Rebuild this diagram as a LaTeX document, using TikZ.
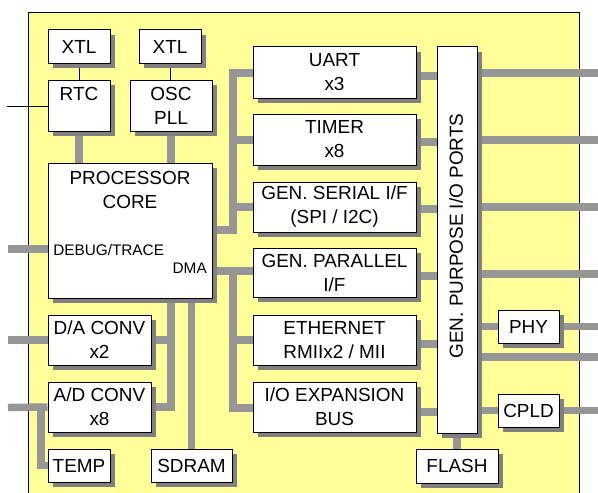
\documentclass[tikz,border=0pt]{standalone}
\usepackage{fontspec}
\setmainfont{Liberation Sans}
\usetikzlibrary{shadows}
\definecolor{bgyellow}{RGB}{255,255,153}
\definecolor{conngray}{RGB}{150,150,150}
\definecolor{shadgray}{RGB}{128,128,128}
\newcommand\mainfs{\fontsize{14.2pt}{18pt}\selectfont}
\newcommand\smallfs{\fontsize{11.5pt}{14pt}\selectfont}
\pgfdeclarelayer{back}
\pgfdeclarelayer{mid}
\pgfsetlayers{back,mid,main}
\begin{document}
\begin{tikzpicture}[x=0.75pt,y=-0.75pt,
  box/.style={draw=black, line width=0.75pt, fill=white, inner sep=0pt, align=center, font=\mainfs,
    drop shadow={shadow xshift=3.75pt, shadow yshift=-3.75pt, fill=shadgray, opacity=1}},
  sz/.style 2 args={minimum width=#1*0.75pt, minimum height=#2*0.75pt},
  conn/.style={draw=conngray, line width=5.6pt},
  thinline/.style={draw=black, line width=0.75pt},
  lbl/.style={inner sep=0pt, align=center}]
\useasboundingbox (0,0) rectangle (598,492);

% boxes
\node[box, sz={62}{33}] (xtla) at (79,46.5) {XTL};
\node[box, sz={62}{33}] (xtlb) at (170,46.5) {XTL};
\node[box, sz={62}{51}] (rtc) at (79,105.5) {RTC\\\phantom{PLL}};
\node[box, sz={82}{51}] (osc) at (171,105.5) {OSC\\PLL};
\node[box, sz={164}{135}] (core) at (130,230.5) {};
\node[lbl, font=\mainfs] (coretxt) at (130,189.5) {PROCESSOR\\CORE};
\node[lbl, font=\smallfs, anchor=base west] (dbgtxt) at (53,255) {DEBUG/TRACE};
\node[lbl, font=\smallfs, anchor=base east] (dmatxt) at (207,273) {DMA};
\node[box, sz={163}{51}] (uart) at (334.5,72.5) {UART\\x3};
\node[box, sz={163}{51}] (timer) at (334.5,139.5) {TIMER\\x8};
\node[box, sz={163}{50}] (serial) at (334.5,207) {GEN. SERIAL I/F\\(SPI / I2C)};
\node[box, sz={163}{49}] (par) at (334.5,272.5) {GEN. PARALLEL\\I/F};
\node[box, sz={163}{50}] (eth) at (334.5,340) {ETHERNET\\RMIIx2 / MII};
\node[box, sz={163}{50}] (ioexp) at (334.5,407) {I/O EXPANSION\\BUS};
\node[box, sz={40}{386}] (gpio) at (457,240) {};
\node[lbl, font=\mainfs, rotate=90] (gpiotxt) at (456,236) {GEN. PURPOSE I/O PORTS};
\node[box, sz={61}{33}] (phy) at (528.5,326.5) {PHY};
\node[box, sz={61}{33}] (cpld) at (528.5,410.5) {CPLD};
\node[box, sz={82}{34}] (flash) at (457,466) {FLASH};
\node[box, sz={103}{50}] (dac) at (99.5,340) {D/A CONV\\x2};
\node[box, sz={103}{50}] (adc) at (99.5,407) {A/D CONV\\x8};
\node[box, sz={62}{33}] (temp) at (79,465.5) {TEMP};
\node[box, sz={81}{33}] (sdram) at (191.5,465.5) {SDRAM};

\begin{pgfonlayer}{back}
\filldraw[fill=bgyellow, draw=black, line width=0.75pt] (28,13) rectangle (579,500);
\end{pgfonlayer}

\begin{pgfonlayer}{mid}
% thin lines
\draw[thinline] (xtla.south) -- (rtc.north);
\draw[thinline] (xtlb.south) -- (xtlb.south |- osc.north);
\coordinate (lrtc) at (7,106);
\draw[thinline] (lrtc) -- (rtc.west |- lrtc);
% core links
\draw[conn] (rtc.south) -- (rtc.south |- core.north);
\draw[conn] (osc.south) -- (osc.south |- core.north);
% upper bus
\draw[conn, line join=miter] (core.east |- 0,230) -| (233,73) -- (uart.west |- 0,73);
\draw[conn] (233,140) -- (timer.west |- 0,140);
\draw[conn] (233,207) -- (serial.west |- 0,207);
% lower bus (DMA)
\draw[conn] (core.east |- 0,271) -- (par.west |- 0,271);
\draw[conn, line join=miter] (233,271) |- (ioexp.west |- 0,408);
\draw[conn] (233,340) -- (eth.west |- 0,340);
% to GPIO
\foreach \n/\y in {uart/76, timer/142, serial/209, par/276, eth/344, ioexp/412}
  \draw[conn] (\n.east |- 0,\y) -- (gpio.west |- 0,\y);
% GPIO outputs
\foreach \i/\y in {1/73, 2/140, 3/207, 4/274, 5/357} {
  \coordinate (r\i) at (598,\y);
  \draw[conn] (gpio.east |- r\i) -- (r\i);
}
\coordinate (rphy) at (598,326.5);
\coordinate (rcpld) at (598,410.5);
\draw[conn] (gpio.east |- phy.west) -- (phy.west);
\draw[conn] (phy.east) -- (rphy);
\draw[conn] (gpio.east |- cpld.west) -- (cpld.west);
\draw[conn] (cpld.east) -- (rcpld);
\draw[conn] (gpio.south) -- (flash.north);
% left side
\coordinate (ldbg) at (8,249);
\coordinate (ldac) at (8,340);
\coordinate (ladc) at (8,407.5);
\draw[conn] (ldbg) -- (core.west |- ldbg);
\draw[conn] (ldac) -- (dac.west);
\draw[conn] (ladc) -- (adc.west);
\draw[conn, line join=miter] (temp.west) -| (41,407.5);
% converters to core
\draw[conn, line join=miter] (core.south -| 171,0) |- (adc.east);
\draw[conn] (dac.east) -- (dac.east -| 171,0);
\draw[conn] (sdram.north) -- (sdram.north |- core.south);
\end{pgfonlayer}
\end{tikzpicture}
\end{document}
